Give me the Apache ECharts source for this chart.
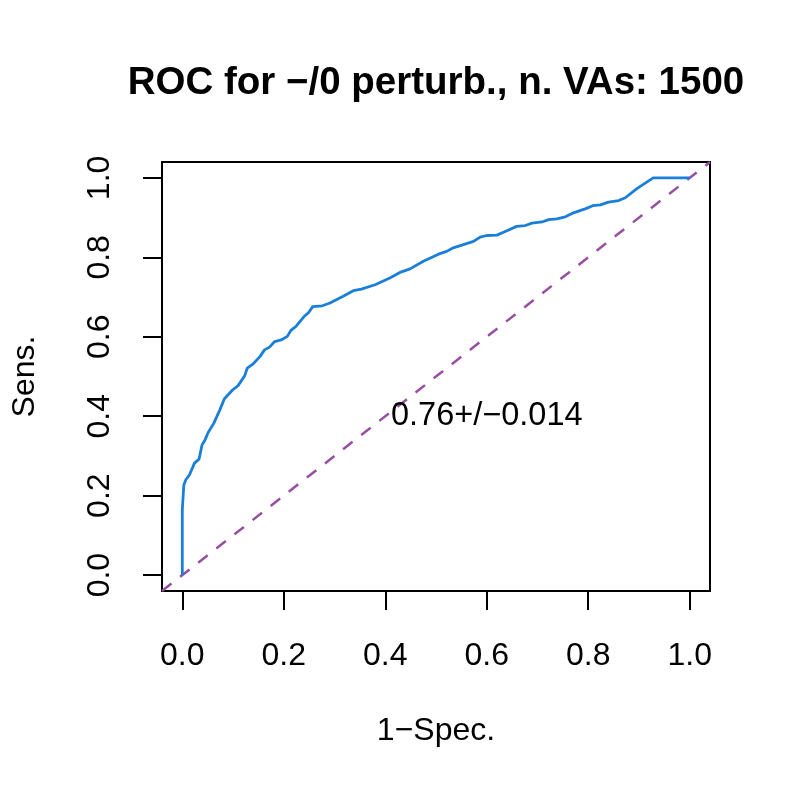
<!DOCTYPE html>
<html>
<head>
<meta charset="utf-8">
<title>ROC</title>
<script src="https://cdn.jsdelivr.net/npm/echarts@6/dist/echarts.min.js"></script>
<style>
    html, body { margin: 0; padding: 0; background: #fff; }
    #chart { width: 793px; height: 793px; }
</style>
</head>
<body>
<div id="chart"></div>
<script>
    // ROC curve points
    var fpr = [0, 0, 0.003, 0.007, 0.014, 0.024, 0.033, 0.039, 0.044, 0.051, 0.062, 0.074, 0.083, 0.099,
        0.110, 0.123, 0.128, 0.139, 0.153, 0.162, 0.172, 0.182, 0.195, 0.207, 0.214, 0.224, 0.240,
        0.249, 0.257, 0.276, 0.291, 0.317, 0.337, 0.353, 0.380, 0.409, 0.429, 0.449, 0.475, 0.505,
        0.521, 0.534, 0.574, 0.587, 0.600, 0.620, 0.633, 0.659, 0.676, 0.689, 0.709, 0.722, 0.738,
        0.755, 0.771, 0.794, 0.809, 0.824, 0.840, 0.860, 0.873, 0.896, 0.928, 1.0];
    var sens = [0, 0.164, 0.227, 0.240, 0.252, 0.282, 0.292, 0.328, 0.338, 0.359, 0.382, 0.416, 0.444, 0.466,
        0.477, 0.502, 0.521, 0.531, 0.550, 0.567, 0.574, 0.588, 0.592, 0.601, 0.616, 0.626, 0.651,
        0.661, 0.676, 0.678, 0.685, 0.702, 0.716, 0.720, 0.731, 0.748, 0.762, 0.771, 0.790, 0.808,
        0.815, 0.824, 0.840, 0.851, 0.855, 0.856, 0.863, 0.878, 0.880, 0.886, 0.889, 0.895, 0.897,
        0.902, 0.912, 0.922, 0.930, 0.932, 0.939, 0.943, 0.950, 0.973, 1.0, 1.0];

    // chance diagonal (spans the whole plotting region)
    var diagX = [-0.04, 1.04];
    var diagY = [-0.04, 1.04];

    var tickValues = [0, 0.2, 0.4, 0.6, 0.8, 1.0];
    var aucText = '0.76+/\u22120.014';
    var aucPos = [0.6, 0.4];

    var font = "'Liberation Sans', Arial, sans-serif";

    var chart = echarts.init(document.getElementById('chart'));

    function pairs(xs, ys) {
        return xs.map(function (x, i) { return [x, ys[i]]; });
    }

    function axis(name, gap, rotate, margin) {
        return {
            type: 'value',
            min: -0.04,
            max: 1.04,
            name: name,
            nameLocation: 'middle',
            nameGap: gap,
            nameTextStyle: { fontFamily: font, fontSize: 32, color: '#000' },
            // keep the axis on the box edge, not on the other axis' zero
            axisLine: { show: false, onZero: false },
            splitLine: { show: false },
            axisTick: {
                show: true,
                inside: false,
                length: 19,
                customValues: tickValues,
                lineStyle: { color: '#000', width: 2 }
            },
            axisLabel: {
                show: true,
                customValues: tickValues,
                rotate: rotate,
                margin: margin,
                fontFamily: font,
                fontSize: 32,
                color: '#000',
                formatter: function (v) { return v.toFixed(1); }
            }
        };
    }

    chart.setOption({
        animation: false,
        title: {
            text: 'ROC for \u2212/0 perturb., n. VAs: 1500',
            left: 431,
            top: 59,
            textAlign: 'center',
            textStyle: { fontFamily: font, fontSize: 38.5, fontWeight: 'bold', color: '#000' }
        },
        grid: {
            left: 162,
            top: 162,
            width: 548,
            height: 429,
            show: true,
            borderColor: '#000',
            borderWidth: 2,
            backgroundColor: 'transparent'
        },
        xAxis: axis('1\u2212Spec.', 124, 0, 49),
        yAxis: axis('Sens.', 121, 90, 46),
        series: [
            {
                name: 'diag',
                type: 'line',
                data: pairs(diagX, diagY),
                symbol: 'none',
                lineStyle: { color: '#984EA3', width: 2.5, type: [12, 11] },
                z: 2
            },
            {
                name: 'roc',
                type: 'line',
                data: pairs(fpr, sens),
                symbol: 'none',
                lineStyle: { color: '#1a7fd8', width: 2.8 },
                z: 3
            },
            {
                name: 'auc',
                type: 'scatter',
                data: [aucPos],
                symbolSize: 0,
                itemStyle: { opacity: 1 },
                label: {
                    show: true,
                    position: [0, 0],
                    align: 'center',
                    verticalAlign: 'middle',
                    formatter: aucText,
                    fontFamily: font,
                    fontSize: 32.5,
                    color: '#000'
                },
                z: 4
            }
        ]
    });
</script>
</body>
</html>
